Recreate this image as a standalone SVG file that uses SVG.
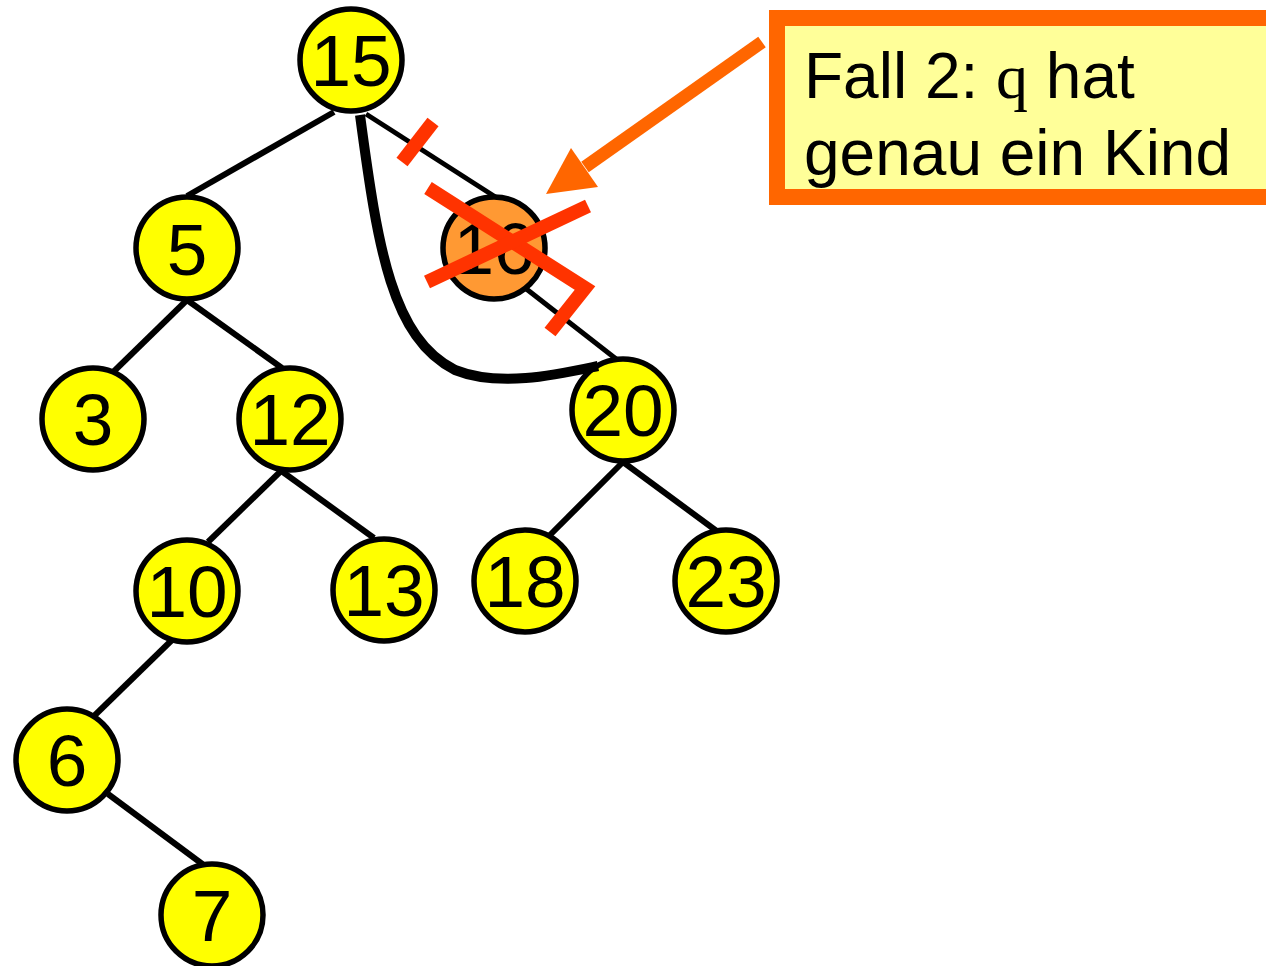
<svg xmlns="http://www.w3.org/2000/svg" width="1266" height="966" viewBox="0 0 1266 966">
<style>
.edge{stroke:#000;stroke-width:6;fill:none;stroke-linecap:butt}
.thin{stroke-width:5}
.node circle{fill:#FFFF00;stroke:#000;stroke-width:5.5}
.node text{font-family:"Liberation Sans",Arial,sans-serif;font-size:73px;fill:#000;text-anchor:middle}
.red{stroke:#FF3300;stroke-width:14;fill:none;stroke-linecap:butt;stroke-linejoin:miter}
.lbl{font-family:"Liberation Sans",Arial,sans-serif;font-size:64px;fill:#000}
</style>
<rect width="1266" height="966" fill="#fff"/>
<g id="connectors">
<line class="edge" x1="334" y1="112" x2="187" y2="196"/>
<line class="edge thin" x1="366" y1="114" x2="497" y2="198"/>
<line class="edge" x1="187" y1="300" x2="105" y2="380"/>
<line class="edge" x1="187" y1="300" x2="282" y2="368"/>
<line class="edge thin" x1="520" y1="284" x2="620" y2="362"/>
<line class="edge" x1="282" y1="470" x2="208" y2="542"/>
<line class="edge" x1="280" y1="470" x2="374" y2="538"/>
<line class="edge" x1="623" y1="462" x2="550" y2="535"/>
<line class="edge" x1="623" y1="462" x2="718" y2="532"/>
<line class="edge" x1="172" y1="640" x2="94" y2="716"/>
<line class="edge" x1="108" y1="794" x2="205" y2="866"/>
</g>
<g id="n15" class="node"><circle cx="351" cy="60" r="51"/><text x="351" y="86">15</text></g>
<g id="n5" class="node"><circle cx="187" cy="248" r="51"/><text x="187" y="275">5</text></g>
<g id="n16" class="node"><circle cx="494" cy="248" r="51" style="fill:#FF9933"/><text x="494" y="274">16</text></g>
<g id="n3" class="node"><circle cx="93" cy="419" r="51"/><text x="93" y="445">3</text></g>
<g id="n12" class="node"><circle cx="290" cy="419" r="51"/><text x="290" y="445">12</text></g>
<g id="n20" class="node"><circle cx="623" cy="410" r="51"/><text x="623" y="436">20</text></g>
<g id="n10" class="node"><circle cx="187" cy="591" r="51"/><text x="187" y="617">10</text></g>
<g id="n13" class="node"><circle cx="384" cy="590" r="51"/><text x="384" y="616">13</text></g>
<g id="n18" class="node"><circle cx="525" cy="581" r="51"/><text x="525" y="607">18</text></g>
<g id="n23" class="node"><circle cx="726" cy="581" r="51"/><text x="726" y="607">23</text></g>
<g id="n6" class="node"><circle cx="67" cy="760" r="51"/><text x="67" y="786">6</text></g>
<g id="n7" class="node"><circle cx="212" cy="915" r="51"/><text x="212" y="941">7</text></g>
<g id="bypass">
<path d="M 360 115 C 378 250, 392 338, 455 370 C 500 388, 560 374, 598 366" stroke="#000" stroke-width="10" fill="none"/>
</g>
<g id="cross">
<line class="red" x1="433" y1="122" x2="402" y2="162"/>
<polyline class="red" points="428,188 585,288 550,332"/>
<line class="red" x1="427" y1="282" x2="588" y2="206"/>
</g>
<g id="callout">
<line x1="762" y1="42" x2="585" y2="167" stroke="#FF6600" stroke-width="13"/>
<polygon points="546,194 571,148 598,187" fill="#FF6600"/>
<rect x="777" y="18" width="497" height="179" fill="#FFFF99" stroke="#FF6600" stroke-width="16"/>
<text class="lbl" x="804" y="98">Fall 2: <tspan style="font-family:'Liberation Serif','Times New Roman',serif">q</tspan> hat</text>
<text class="lbl" x="804" y="175">genau ein Kind</text>
</g>
</svg>
